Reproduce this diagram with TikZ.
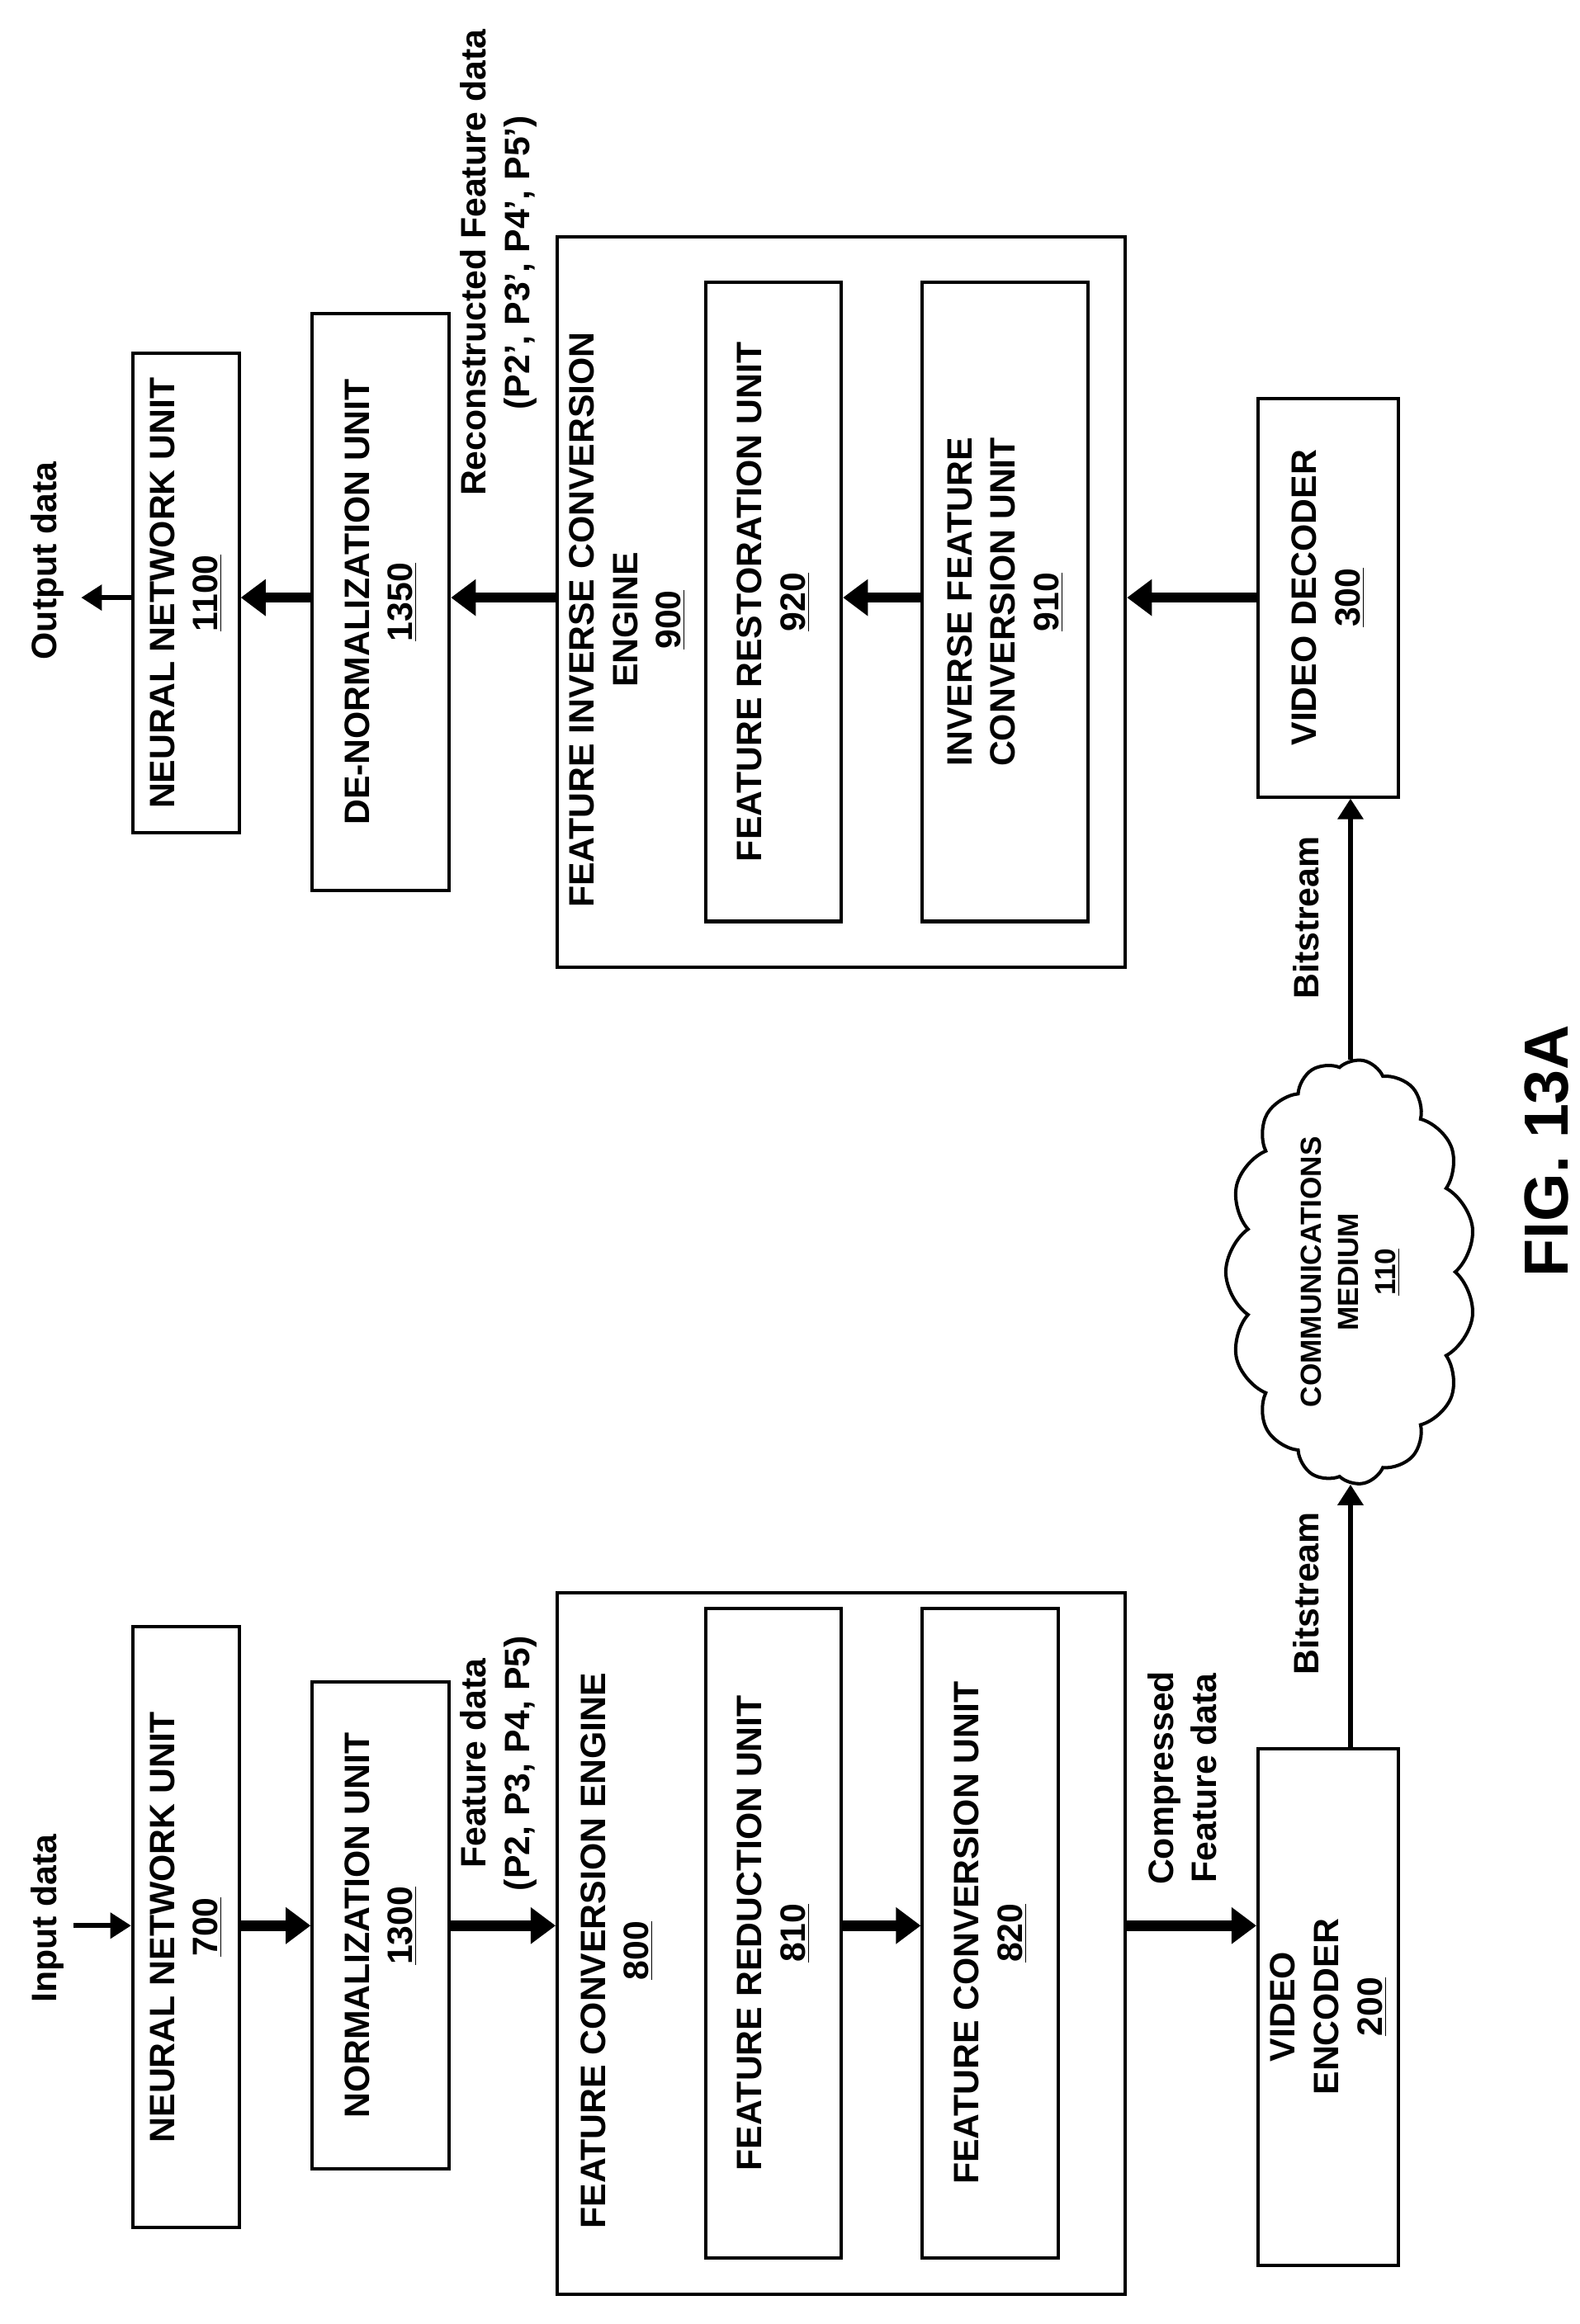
\documentclass[tikz,border=0pt]{standalone}
\usepackage{fontspec}
\setmainfont{Liberation Sans}
\usetikzlibrary{arrows.meta, shapes.symbols}

\tikzset{
  blk/.style={draw, line width=1.6pt, rotate=90, align=center, inner sep=2pt,
    font=\bfseries\fontsize{17}{21}\selectfont},
  lbl/.style={rotate=90, align=center, font=\bfseries\fontsize{17}{21}\selectfont},
  fat/.style={line width=5pt, -{Triangle[length=12pt, width=17pt]}},
  thin/.style={line width=2.5pt, -{Triangle[length=10pt, width=12pt]}}
}

\begin{document}
\begin{tikzpicture}[x=0.025cm, y=-0.025cm]
  \useasboundingbox (0,0) rectangle (1070,1575);
  % encoder side
  \node[lbl] (in) at (32,1300) {Input data};
  \coordinate (inA) at (50,1305);
  \node[blk, minimum width=10.18cm, minimum height=1.8cm] (nn1) at (126,1306) {NEURAL NETWORK UNIT\\\underline{700}};
  \node[blk, minimum width=8.25cm, minimum height=2.32cm] (norm) at (258,1305) {NORMALIZATION UNIT\\\underline{1300}};
  \node[blk, minimum width=11.88cm, minimum height=9.62cm] (fce) at (570,1317) {};
  \node[lbl] (fceT) at (418,1322) {FEATURE CONVERSION ENGINE\\\underline{800}};
  \node[blk, minimum width=11cm, minimum height=2.3cm] (red) at (524,1310) {FEATURE REDUCTION UNIT\\\underline{810}};
  \node[blk, minimum width=11cm, minimum height=2.3cm] (conv) at (671,1310) {FEATURE CONVERSION UNIT\\\underline{820}};
  \node[blk, minimum width=8.75cm, minimum height=2.38cm] (enc) at (900,1360) {VIDEO\\ENCODER\\\underline{200}};
  \node[lbl] (fd) at (338,1195) {Feature data\\(P2, P3, P4, P5)};
  \node[lbl] (cfd) at (801,1205) {Compressed\\Feature data};
  % medium
  \node[cloud, draw, line width=1.6pt, rotate=90, cloud puffs=15, cloud puff arc=110,
    aspect=1.8, inner sep=0pt, minimum width=7.2cm, minimum height=4cm, align=center,
    font=\bfseries\fontsize{14}{18}\selectfont] (med) at (915,862) {COMMUNICATIONS\\MEDIUM\\\underline{110}};
  \node[lbl] (bs1) at (885,1080) {Bitstream};
  \node[lbl] (bs2) at (885,622) {Bitstream};
  % decoder side
  \node[blk, minimum width=6.75cm, minimum height=2.38cm] (dec) at (900,405) {VIDEO DECODER\\\underline{300}};
  \node[blk, minimum width=12.38cm, minimum height=9.62cm] (fie) at (570,408) {};
  \node[lbl] (fieT) at (425,420) {FEATURE INVERSE CONVERSION\\ENGINE\\\underline{900}};
  \node[blk, minimum width=10.82cm, minimum height=2.3cm] (res) at (524,408) {FEATURE RESTORATION UNIT\\\underline{920}};
  \node[blk, minimum width=10.82cm, minimum height=2.82cm] (inv) at (681,408) {INVERSE FEATURE\\CONVERSION UNIT\\\underline{910}};
  \node[blk, minimum width=9.78cm, minimum height=2.32cm] (den) at (258,408) {DE-NORMALIZATION UNIT\\\underline{1350}};
  \node[blk, minimum width=8.12cm, minimum height=1.8cm] (nn2) at (126,402) {NEURAL NETWORK UNIT\\\underline{1100}};
  \node[lbl] (rfd) at (338,178) {Reconstructed Feature data\\(P2', P3', P4', P5')};
  \node[lbl] (out) at (32,380) {Output data};
  \coordinate (outA) at (55,405);
  \node[lbl, font=\bfseries\fontsize{30}{36}\selectfont] (fig) at (1048,780) {FIG. 13A};
  % connectors
  \draw[thin] (inA) -- (inA -| nn1.north);
  \draw[fat] (nn1.south |- 0,1305) -- (norm.north |- 0,1305);
  \draw[fat] (norm.south |- 0,1305) -- (fce.north |- 0,1305);
  \draw[fat] (red.south |- 0,1305) -- (conv.north |- 0,1305);
  \draw[fat] (fce.south |- 0,1305) -- (enc.north |- 0,1305);
  \draw[thin] (enc.east -| 915,0) -- (med.west -| 915,0);
  \draw[thin] (med.east -| 915,0) -- (dec.west -| 915,0);
  \draw[fat] (dec.north |- 0,405) -- (fie.south |- 0,405);
  \draw[fat] (inv.north |- 0,405) -- (res.south |- 0,405);
  \draw[fat] (fie.north |- 0,405) -- (den.south |- 0,405);
  \draw[fat] (den.north |- 0,405) -- (nn2.south |- 0,405);
  \draw[thin] (nn2.north |- 0,405) -- (outA);
\end{tikzpicture}
\end{document}
